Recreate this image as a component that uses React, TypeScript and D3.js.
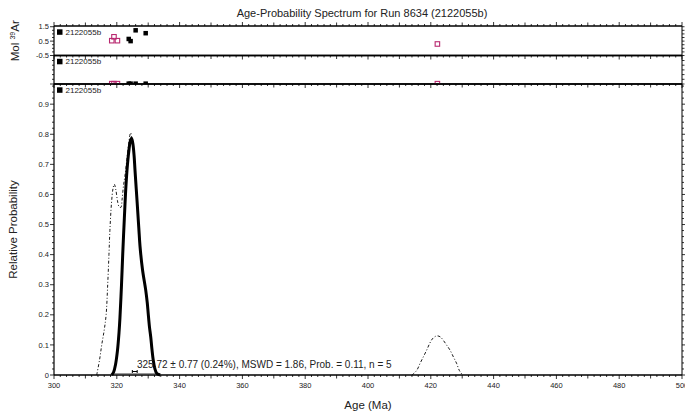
import React from "react";
import * as d3 from "d3";

const title = "Age-Probability Spectrum for Run 8634 (2122055b)";
const sampleLabel = "2122055b";
const xTickLabels = [300, 320, 340, 360, 380, 400, 420, 440, 460, 480, 500];
const mainYTicks = [0, 0.1, 0.2, 0.3, 0.4, 0.5, 0.6, 0.7, 0.8, 0.9];
const topYTicks = [-0.5, 0.5, 1.5];

// step ages (Ma) and scaled Mol 39Ar
const includedAges = [323.8, 324.4, 326.0, 329.2];
const includedMol = [0.65, 0.5, 1.25, 1.05];
const excludedAges = [318.4, 319.1, 320.2, 422.1];
const excludedMol = [0.53, 0.8, 0.53, 0.3];

// probability curve of included steps (solid)
const solidAge = [318.4, 319.0, 319.6, 320.2, 320.7, 321.0, 321.5, 321.9, 322.4, 322.9, 323.4, 323.9, 324.3, 324.7, 325.1, 325.5, 325.8, 326.5, 327.0, 327.4, 328.2, 329.2, 329.7, 330.0, 330.4, 330.8, 331.2, 331.6, 332.1, 332.7, 333.8];
const solidProb = [0, 0.01, 0.035, 0.08, 0.14, 0.19, 0.3, 0.405, 0.52, 0.626, 0.7, 0.75, 0.778, 0.787, 0.77, 0.73, 0.68, 0.57, 0.49, 0.427, 0.349, 0.283, 0.24, 0.205, 0.16, 0.127, 0.085, 0.05, 0.022, 0.006, 0];

// probability curve of all steps (dash-dot)
const dashAge = [313.6, 314.5, 315.2, 316.0, 316.6, 317.1, 317.5, 317.8, 318.3, 318.8, 319.2, 319.7, 320.2, 320.7, 321.3, 321.7, 322.1, 322.7, 323.2, 323.8, 324.4, 324.9, 325.4, 325.8, 326.5, 327.0, 327.4, 328.2, 329.2, 329.7, 330.0, 330.4, 330.8, 331.2, 331.6, 332.1, 332.7, 333.8];
const dashProb = [0, 0.05, 0.1, 0.15, 0.2, 0.3, 0.4, 0.48, 0.57, 0.62, 0.634, 0.615, 0.58, 0.56, 0.557, 0.585, 0.626, 0.67, 0.715, 0.77, 0.805, 0.78, 0.73, 0.68, 0.57, 0.49, 0.427, 0.349, 0.283, 0.24, 0.205, 0.16, 0.127, 0.085, 0.05, 0.022, 0.006, 0];
const bumpAge = [414.0, 415.5, 416.6, 417.7, 418.7, 419.6, 420.5, 421.4, 422.2, 423.1, 424.0, 425.0, 426.1, 427.2, 428.2, 429.1, 430.1];
const bumpProb = [0, 0.015, 0.039, 0.062, 0.083, 0.104, 0.12, 0.128, 0.13, 0.126, 0.115, 0.1, 0.083, 0.06, 0.039, 0.015, 0];

const meanAge = 325.72;
const meanErr = 0.77;
const meanText = "325.72 ± 0.77 (0.24%), MSWD = 1.86, Prob. = 0.11, n = 5";

const FONT = "'Liberation Sans', Arial, Helvetica, sans-serif";
const MAGENTA = "#b8286f";

export default function App() {
  const W = 685, H = 416;
  const L = 54, R = 682;
  const p1Top = 26, p1Bot = 55.5, p2Top = 55.5, p2Bot = 84, p3Top = 84, p3Bot = 375;

  const x = d3.scaleLinear().domain([300, 500]).range([L, R]);
  const yMain = d3.scaleLinear().domain([0, 0.967]).range([p3Bot, p3Top]);
  const y1 = d3.scaleLinear().domain([-0.5, 1.55]).range([p1Bot, p1Top]);

  const line = d3
    .line<[number, number]>()
    .x((d) => x(d[0]))
    .y((d) => yMain(d[1]))
    .curve(d3.curveCatmullRom.alpha(0.5));

  const solidPts = solidAge.map((a, i) => [a, solidProb[i]] as [number, number]);
  const dashPts = dashAge.map((a, i) => [a, dashProb[i]] as [number, number]);
  const bumpPts = bumpAge.map((a, i) => [a, bumpProb[i]] as [number, number]);

  const minorX = d3.range(300, 501, 2);
  const minorMain = d3.range(0, 0.961, 0.02);
  const minorTop = d3.range(-0.5, 1.551, 0.25);

  const xTickLen = (v: number) => (v % 20 === 0 ? 4 : v % 10 === 0 ? 3.5 : 2);

  const panels = [
    { top: p1Top, bot: p1Bot },
    { top: p2Top, bot: p2Bot },
    { top: p3Top, bot: p3Bot },
  ];

  const sq = 4.5;

  return (
    <svg
      width={W}
      height={H}
      style={{ position: "absolute", left: 0, top: 0, background: "#fff" }}
      fontFamily={FONT}
    >
      <defs>
        <clipPath id="clip1">
          <rect x={L} y={p1Top} width={R - L} height={p1Bot - p1Top} />
        </clipPath>
        <clipPath id="clip2">
          <rect x={L} y={p2Top} width={R - L} height={p2Bot - p2Top} />
        </clipPath>
      </defs>

      {/* title */}
      <text x={362} y={17} fontSize={11} textAnchor="middle" fill="#222">
        {title}
      </text>

      {/* top ticks of panel 1 (pointing up) */}
      {minorX.map((v) => (
        <line key={"tt" + v} x1={x(v)} x2={x(v)} y1={p1Top} y2={p1Top - xTickLen(v)} stroke="#000" strokeWidth={0.8} />
      ))}
      {/* ticks below boundaries of panel 2 and 3 */}
      {[p2Top, p3Top].map((yy) =>
        minorX.map((v) => (
          <line key={"bt" + yy + v} x1={x(v)} x2={x(v)} y1={yy} y2={yy + xTickLen(v)} stroke="#000" strokeWidth={0.8} />
        ))
      )}
      {/* bottom axis ticks */}
      {minorX.map((v) => (
        <line key={"xb" + v} x1={x(v)} x2={x(v)} y1={p3Bot} y2={p3Bot + xTickLen(v)} stroke="#000" strokeWidth={0.8} />
      ))}
      {xTickLabels.map((v) => (
        <text key={"xl" + v} x={x(v)} y={388} fontSize={7.5} textAnchor="middle" fill="#222">
          {v}
        </text>
      ))}

      {/* panel frames */}
      {panels.map((p, i) => (
        <g key={"pf" + i}>
          <line x1={L} x2={R} y1={p.top} y2={p.top} stroke="#000" strokeWidth={1.4} />
          <line x1={L} x2={L} y1={p.top} y2={p.bot} stroke="#000" strokeWidth={1.2} />
          <line x1={R} x2={R} y1={p.top} y2={p.bot} stroke="#000" strokeWidth={1} />
        </g>
      ))}
      <line x1={L} x2={R} y1={p3Bot} y2={p3Bot} stroke="#000" strokeWidth={1.6} />

      {/* panel 1 y axis */}
      {minorTop.map((v) => (
        <g key={"t1" + v}>
          <line x1={L} x2={L - (topYTicks.some((t) => Math.abs(t - v) < 1e-6) ? 4 : 2)} y1={y1(v)} y2={y1(v)} stroke="#000" strokeWidth={0.8} />
          <line x1={R} x2={R + 2.5} y1={y1(v)} y2={y1(v)} stroke="#000" strokeWidth={0.8} />
        </g>
      ))}
      {topYTicks.map((v) => (
        <text key={"t1l" + v} x={L - 5} y={y1(v) + 2.6} fontSize={7.5} textAnchor="end" fill="#222">
          {v}
        </text>
      ))}
      {/* panel 2 ticks */}
      {d3.range(0, 6).map((i) => {
        const yy = p2Bot - i * 4.7;
        return (
          <g key={"t2" + i}>
            <line x1={L} x2={L - (i === 0 ? 4 : 2)} y1={yy} y2={yy} stroke="#000" strokeWidth={0.8} />
            <line x1={R} x2={R + 2.5} y1={yy} y2={yy} stroke="#000" strokeWidth={0.8} />
          </g>
        );
      })}

      {/* main y axis */}
      {minorMain.map((v, i) => (
        <g key={"my" + i}>
          <line x1={L} x2={L - (i % 5 === 0 ? 4 : 2)} y1={yMain(v)} y2={yMain(v)} stroke="#000" strokeWidth={0.8} />
          <line x1={R} x2={R + (i % 5 === 0 ? 3 : 2)} y1={yMain(v)} y2={yMain(v)} stroke="#000" strokeWidth={0.8} />
        </g>
      ))}
      {mainYTicks.map((v) => (
        <text key={"myl" + v} x={L - 5} y={yMain(v) + 2.6} fontSize={7.5} textAnchor="end" fill="#222">
          {v === 0 ? "0" : v.toFixed(1)}
        </text>
      ))}

      {/* legends */}
      {[p1Top, p2Top, p3Top].map((t, i) => (
        <g key={"lg" + i}>
          <rect x={57} y={t + 3.3} width={5.5} height={5.5} fill="#000" />
          <text x={65.5} y={t + 8.5} fontSize={8} fill="#222">
            {sampleLabel}
          </text>
        </g>
      ))}

      {/* panel 1 points */}
      <g clipPath="url(#clip1)">
        {excludedAges.map((a, i) => (
          <rect key={"e1" + i} x={x(a) - sq / 2} y={y1(excludedMol[i]) - sq / 2} width={sq} height={sq} fill="none" stroke={MAGENTA} strokeWidth={1.1} />
        ))}
        {includedAges.map((a, i) => (
          <rect key={"i1" + i} x={x(a) - sq / 2} y={y1(includedMol[i]) - sq / 2} width={sq} height={sq} fill="#000" />
        ))}
      </g>
      {/* panel 2 points (at baseline) */}
      <g clipPath="url(#clip2)">
        {excludedAges.map((a, i) => (
          <rect key={"e2" + i} x={x(a) - sq / 2} y={p2Bot - 2.6} width={sq} height={sq} fill="none" stroke={MAGENTA} strokeWidth={1.1} />
        ))}
        {includedAges.map((a, i) => (
          <rect key={"i2" + i} x={x(a) - sq / 2} y={p2Bot - 2.6} width={sq} height={sq} fill="#000" />
        ))}
      </g>
      <line x1={L} x2={R} y1={p2Bot} y2={p2Bot} stroke="#000" strokeWidth={1.4} />
      <line x1={L} x2={R} y1={p1Bot} y2={p1Bot} stroke="#000" strokeWidth={1.4} />

      {/* curves */}
      <line x1={x(solidAge[0])} x2={x(solidAge[solidAge.length - 1])} y1={p3Bot - 1.5} y2={p3Bot - 1.5} stroke="#999" strokeWidth={1} />
      <path d={line(dashPts) || ""} fill="none" stroke="#000" strokeWidth={0.9} strokeDasharray="3,2,1,2" />
      <path d={line(bumpPts) || ""} fill="none" stroke="#000" strokeWidth={0.9} strokeDasharray="3,2,1,2" />
      <path d={line(solidPts) || ""} fill="none" stroke="#000" strokeWidth={3} strokeLinejoin="round" />

      {/* weighted mean error bar */}
      <g stroke="#000" strokeWidth={1}>
        <line x1={x(meanAge - meanErr)} x2={x(meanAge + meanErr)} y1={371.5} y2={371.5} />
        <line x1={x(meanAge - meanErr)} x2={x(meanAge - meanErr)} y1={370} y2={373} />
        <line x1={x(meanAge + meanErr)} x2={x(meanAge + meanErr)} y1={370} y2={373} />
      </g>
      <text x={137} y={367.5} fontSize={10} fill="#222">
        {meanText}
      </text>

      {/* axis titles */}
      <text transform={`translate(19,${(p1Top + p1Bot) / 2}) rotate(-90)`} fontSize={11.5} textAnchor="middle" fill="#222">
        Mol <tspan fontSize={7} dy={-4}>39</tspan>
        <tspan dy={4}>Ar</tspan>
      </text>
      <text transform={`translate(17,${(p3Top + p3Bot) / 2}) rotate(-90)`} fontSize={11.5} textAnchor="middle" fill="#222">
        Relative Probability
      </text>
      <text x={(L + R) / 2} y={409} fontSize={11.5} textAnchor="middle" fill="#222">
        Age (Ma)
      </text>
    </svg>
  );
}
